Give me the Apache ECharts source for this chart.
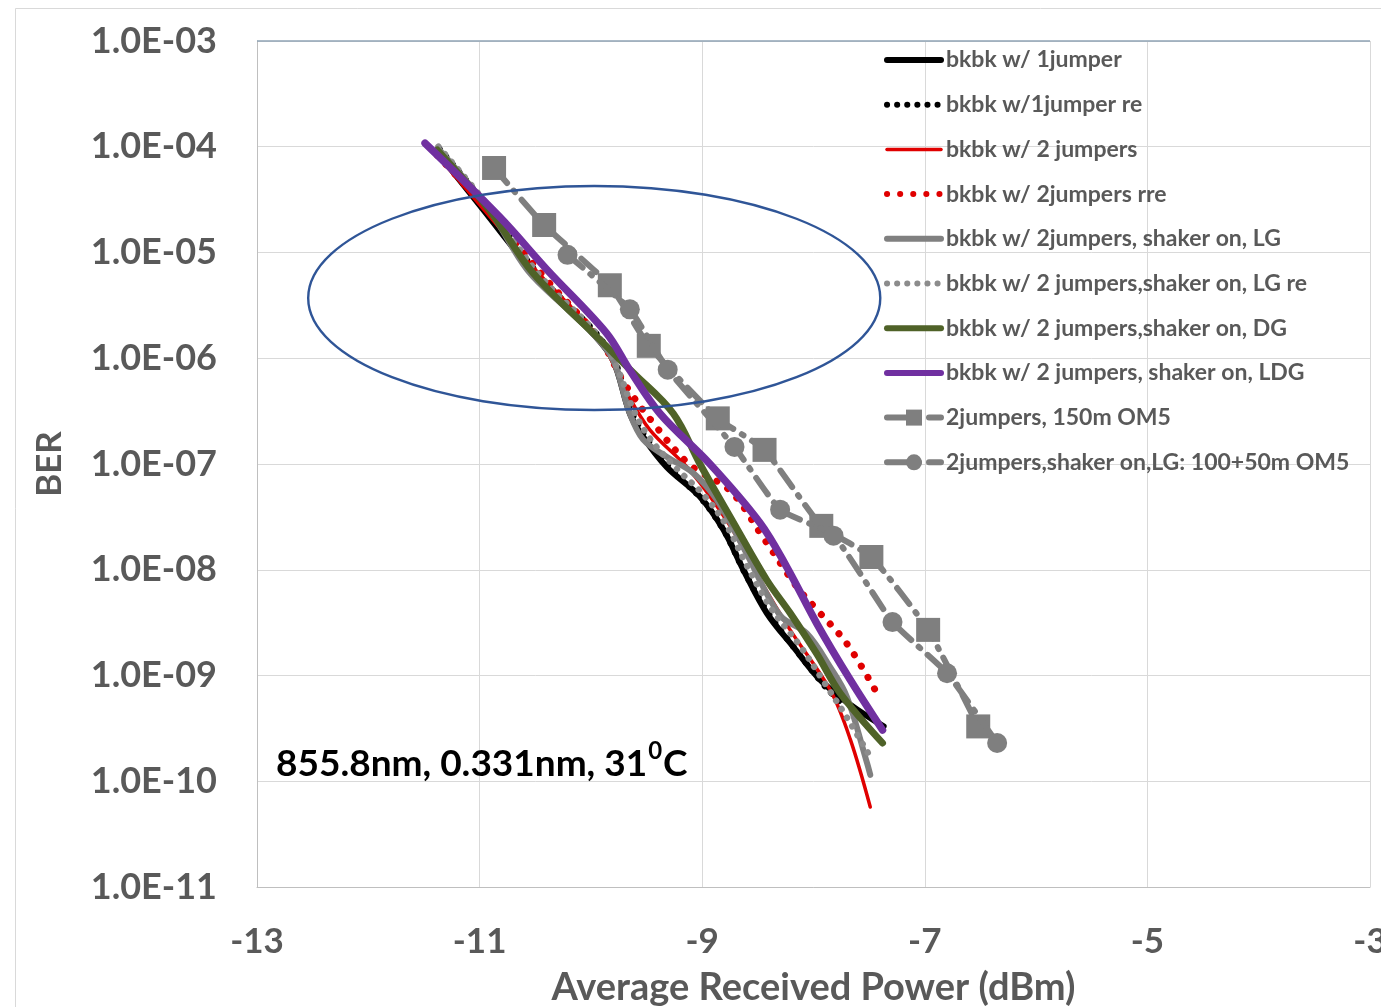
<!DOCTYPE html>
<html><head><meta charset="utf-8">
<script src="https://cdn.jsdelivr.net/npm/echarts@6/dist/echarts.min.js"></script>
<style>html,body{margin:0;padding:0;background:#fff}#c{width:1381px;height:1007px}</style>
</head><body><div id="c"></div>
<script>
// ---------- data ----------
const seriesNames = [
  'bkbk w/ 1jumper',
  'bkbk w/1jumper re',
  'bkbk w/ 2 jumpers',
  'bkbk w/ 2jumpers rre',
  'bkbk w/ 2jumpers, shaker on, LG',
  'bkbk w/ 2 jumpers,shaker on, LG re',
  'bkbk w/ 2 jumpers,shaker on, DG',
  'bkbk w/ 2 jumpers, shaker on, LDG',
  '2jumpers, 150m OM5',
  '2jumpers,shaker on,LG: 100+50m OM5'
];
const xTicks = [-13, -11, -9, -7, -5, -3];
const yTicks = [1e-3, 1e-4, 1e-5, 1e-6, 1e-7, 1e-8, 1e-9, 1e-10, 1e-11];

const jumper1X = [-11.38, -11.00, -10.46, -9.98, -9.80, -9.65, -9.53, -9.32, -9.02, -8.81, -8.63, -8.42, -8.18, -7.94, -7.67, -7.37];
const jumper1Y = [8.9e-5, 2.8e-5, 5.5e-6, 1.7e-6, 9.5e-7, 3.0e-7, 1.8e-7, 9.4e-8, 4.9e-8, 2.4e-8, 1.0e-8, 3.9e-9, 1.86e-9, 9.1e-10, 5.3e-10, 3.3e-10];

const jumper1reX = [-11.36, -10.95, -10.45, -9.97, -9.78, -9.64, -9.50, -9.28, -9.00, -8.80, -8.62, -8.40, -8.15, -7.90, -7.75];
const jumper1reY = [9.5e-5, 2.9e-5, 5.8e-6, 1.8e-6, 9.0e-7, 3.2e-7, 1.75e-7, 9.0e-8, 4.6e-8, 2.3e-8, 9.5e-9, 3.8e-9, 1.7e-9, 8.0e-10, 5.5e-10];

const jumper2X = [-11.38, -10.91, -10.46, -9.92, -9.69, -9.47, -9.11, -8.75, -8.48, -8.21, -7.85, -7.67, -7.49];
const jumper2Y = [8.3e-5, 2.2e-5, 6.2e-6, 1.5e-6, 5.0e-7, 2.1e-7, 8.7e-8, 2.6e-8, 8.0e-9, 2.7e-9, 7.3e-10, 2.5e-10, 5.7e-11];

const jumper2rreX = [-11.38, -10.91, -10.41, -9.92, -9.69, -9.42, -9.11, -8.75, -8.45, -8.15, -7.97, -7.70, -7.43];
const jumper2rreY = [8.3e-5, 2.4e-5, 5.7e-6, 1.5e-6, 5.6e-7, 2.3e-7, 9.8e-8, 5.6e-8, 2.0e-8, 6.9e-9, 4.2e-9, 2.0e-9, 6.8e-10];

const lgX = [-11.36, -10.91, -10.57, -10.21, -9.98, -9.80, -9.65, -9.53, -9.32, -9.08, -8.87, -8.62, -8.30, -8.06, -7.85, -7.70, -7.52, -7.49];
const lgY = [9.3e-5, 2.5e-5, 6.8e-6, 2.9e-6, 1.7e-6, 9.6e-7, 3.0e-7, 1.7e-7, 1.17e-7, 8.2e-8, 4.6e-8, 1.55e-8, 3.7e-9, 2.5e-9, 1.2e-9, 6.3e-10, 1.5e-10, 1.15e-10];

const lgReX = [-11.37, -10.95, -10.45, -9.97, -9.78, -9.62, -9.48, -9.25, -8.98, -8.78, -8.60, -8.38, -8.12, -7.90, -7.70, -7.49];
const lgReY = [1.0e-4, 3.0e-5, 5.9e-6, 1.8e-6, 8.8e-7, 3.3e-7, 1.8e-7, 9.5e-8, 5.0e-8, 2.6e-8, 1.1e-8, 4.3e-9, 1.9e-9, 8.5e-10, 4.0e-10, 1.7e-10];

const dgX = [-11.38, -10.91, -10.52, -9.92, -9.62, -9.26, -9.02, -8.72, -8.42, -8.21, -7.97, -7.76, -7.38];
const dgY = [9.3e-5, 2.5e-5, 6.4e-6, 1.5e-6, 7.3e-7, 3.0e-7, 1.0e-7, 2.8e-8, 8.0e-9, 3.9e-9, 1.6e-9, 6.8e-10, 2.3e-10];

const ldgX = [-11.49, -10.82, -10.39, -9.86, -9.65, -9.38, -8.93, -8.48, -8.24, -7.97, -7.67, -7.38];
const ldgY = [1.08e-4, 2.17e-5, 6.8e-6, 1.73e-6, 7.7e-7, 3.0e-7, 1.0e-7, 2.77e-8, 1.06e-8, 3.1e-9, 9.1e-10, 3.05e-10];

const om5X = [-10.87, -10.42, -9.83, -9.48, -8.86, -8.44, -7.93, -7.48, -6.97, -6.52];
const om5Y = [6.3e-5, 1.82e-5, 4.9e-6, 1.31e-6, 2.7e-7, 1.36e-7, 2.6e-8, 1.32e-8, 2.7e-9, 3.3e-10];

const om5LgX = [-10.21, -9.65, -9.31, -8.71, -8.30, -7.82, -7.29, -6.80, -6.35];
const om5LgY = [9.5e-6, 2.9e-6, 7.8e-7, 1.45e-7, 3.7e-8, 2.1e-8, 3.2e-9, 1.05e-9, 2.3e-10];

// annotation ellipse extent in data units
const ellipseX = [-12.54, -7.40];
const ellipseY = [4.26e-5, 3.24e-7];
const noteText = ['855.8nm, 0.331nm, 31', '0', 'C'];

// ---------- build ----------
const zip = (xs, ys) => xs.map((x, i) => [x, ys[i]]);
const FONT = 'Lato';
const GREY_TXT = '#595959';

function lineSeries(i, xs, ys, color, width, type, extra) {
  return Object.assign({
    name: seriesNames[i], type: 'line', data: zip(xs, ys),
    smooth: 0.35, symbol: 'none', z: 3 + i * 0.01,
    lineStyle: { color: color, width: width, type: type, cap: 'round', join: 'round' },
    itemStyle: { color: color },
    emphasis: { disabled: true }
  }, extra || {});
}
const DOT = [0.1, 10];

const widths = [6, 6.5, 3.5, 7, 6, 6.5, 7, 7.5, 6, 6];
const series = [
  lineSeries(0, jumper1X, jumper1Y, '#000000', widths[0], 'solid'),
  lineSeries(1, jumper1reX, jumper1reY, '#000000', widths[1], DOT),
  lineSeries(2, jumper2X, jumper2Y, '#e00000', widths[2], 'solid'),
  lineSeries(3, jumper2rreX, jumper2rreY, '#e00000', widths[3], [0.1, 13]),
  lineSeries(4, lgX, lgY, '#808080', widths[4], 'solid'),
  lineSeries(5, lgReX, lgReY, '#8c8c8c', widths[5], DOT),
  lineSeries(6, dgX, dgY, '#4f6228', widths[6], 'solid'),
  lineSeries(7, ldgX, ldgY, '#7030a0', widths[7], 'solid'),
  lineSeries(8, om5X, om5Y, '#7f7f7f', widths[8], [20, 10, 2, 10], { symbol: 'rect', symbolSize: 24, showSymbol: true, smooth: 0.15 }),
  lineSeries(9, om5LgX, om5LgY, '#7f7f7f', widths[9], [20, 10, 2, 10], { symbol: 'circle', symbolSize: 20, showSymbol: true, smooth: 0.15 })
];

const legendData = seriesNames.map((n, i) => i < 8
  ? { name: n, itemStyle: { opacity: 0 }, lineStyle: { width: Math.min(widths[i], 6) } }
  : { name: n, lineStyle: { width: 6 } });

const chart = echarts.init(document.getElementById('c'), null, { renderer: 'canvas' });
const fmtY = v => {
  const e = Math.round(Math.log10(v));
  const a = Math.abs(e);
  return '1.0E' + (e < 0 ? '-' : '+') + (a < 10 ? '0' + a : '' + a);
};

chart.setOption({
  animation: false,
  backgroundColor: '#ffffff',
  textStyle: { fontFamily: FONT },
  grid: { left: 257, right: 11, top: 41, bottom: 120, containLabel: false, outerBoundsMode: 'none' },
  legend: {
    orient: 'vertical', left: 884, top: 48, padding: 0,
    itemWidth: 54, itemHeight: 20, itemGap: 20.7,
    selectedMode: false,
    lineStyle: { width: 'inherit' },
    textStyle: { fontFamily: FONT, fontSize: 23, fontWeight: 'bold', color: GREY_TXT, lineHeight: 24, padding: [0, 0, 0, 0] },
    data: legendData
  },
  xAxis: {
    type: 'value', min: xTicks[0], max: xTicks[xTicks.length - 1], interval: 2,
    name: 'Average Received Power (dBm)', nameLocation: 'middle', nameGap: 82,
    nameTextStyle: { fontFamily: FONT, fontSize: 38, fontWeight: 'bold', color: GREY_TXT },
    axisLine: { show: true, lineStyle: { color: '#bfbfbf', width: 1 } },
    axisTick: { show: false },
    axisLabel: { margin: 37, fontFamily: FONT, fontSize: 35, fontWeight: 'bold', color: GREY_TXT,
      formatter: v => xTicks.includes(v) ? String(v) : '' },
    splitLine: { show: true, lineStyle: { color: '#d9d9d9', width: 1 } }
  },
  yAxis: {
    type: 'log', logBase: 10, min: yTicks[yTicks.length - 1], max: yTicks[0],
    name: 'BER', nameLocation: 'middle', nameGap: 190, nameRotate: 90,
    nameTextStyle: { fontFamily: FONT, fontSize: 35, fontWeight: 'bold', color: GREY_TXT },
    axisLine: { show: true, lineStyle: { color: '#bfbfbf', width: 1 } },
    axisTick: { show: false },
    axisLabel: { margin: 40, fontFamily: FONT, fontSize: 36, fontWeight: 'bold', color: GREY_TXT, formatter: fmtY },
    splitLine: { show: true, lineStyle: { color: '#d9d9d9', width: 1 } }
  },
  series: series
});

// annotations placed from data coordinates
const p1 = chart.convertToPixel({ gridIndex: 0 }, [ellipseX[0], ellipseY[0]]);
const p2 = chart.convertToPixel({ gridIndex: 0 }, [ellipseX[1], ellipseY[1]]);
chart.setOption({
  graphic: [
    { type: 'rect', left: 13, top: 6, shape: { width: 1400, height: 1050 }, style: { fill: 'none', stroke: '#d9d9d9', lineWidth: 1 }, z: 0, silent: true },
    { type: 'line', shape: { x1: 257, y1: 41, x2: 1370, y2: 41 }, style: { stroke: '#8fa3b5', lineWidth: 1.5 }, z: 1, silent: true },
    { type: 'ellipse', shape: { cx: (p1[0] + p2[0]) / 2, cy: (p1[1] + p2[1]) / 2, rx: Math.abs(p2[0] - p1[0]) / 2, ry: Math.abs(p2[1] - p1[1]) / 2 },
      style: { fill: 'none', stroke: '#2f5597', lineWidth: 2.4 }, z: 10, silent: true },
    { type: 'text', left: 276, top: 739, z: 10, silent: true,
      style: {
        text: '{a|' + noteText[0] + '}{s|' + noteText[1] + '}{a|' + noteText[2] + '}',
        rich: {
          a: { fontFamily: FONT, fontSize: 37, fontWeight: 'bold', fill: '#000', lineHeight: 44, verticalAlign: 'bottom' },
          s: { fontFamily: FONT, fontSize: 24, fontWeight: 'bold', fill: '#000', lineHeight: 44, verticalAlign: 'top', padding: [0, 1, 14, 1] }
        }
      } }
  ]
});
</script></body></html>
